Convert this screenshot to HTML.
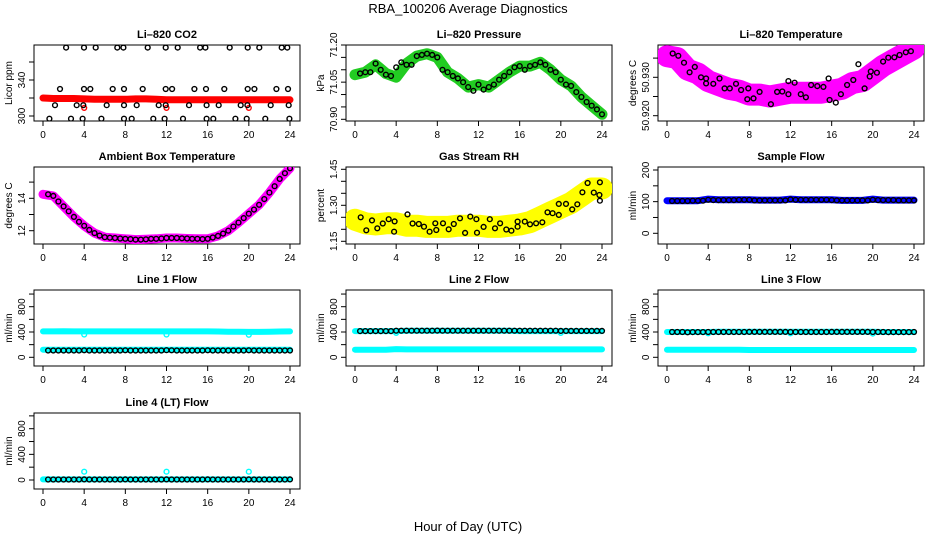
<!DOCTYPE html>
<html><head><meta charset="utf-8"><style>
html,body{margin:0;padding:0;background:#fff;}
svg{display:block;font-family:"Liberation Sans",sans-serif;}
</style></head><body>
<svg id="chart" width="936" height="540" viewBox="0 0 936 540">
<text x="468" y="13" text-anchor="middle" font-size="13">RBA_100206  Average Diagnostics</text>
<text x="468" y="531" text-anchor="middle" font-size="13">Hour of Day (UTC)</text>
</svg>
<script>
// ---- data ----
const hoursHalf = [0.5,1,1.5,2,2.5,3,3.5,4,4.5,5,5.5,6,6.5,7,7.5,8,8.5,9,9.5,10,10.5,11,11.5,12,12.5,13,13.5,14,14.5,15,15.5,16,16.5,17,17.5,18,18.5,19,19.5,20,20.5,21,21.5,22,22.5,23,23.5,24];
const hoursBand = [0,1,2,3,4,5,6,7,8,9,10,11,12,13,14,15,16,17,18,19,20,21,22,23,24];
const xTicks = [0,4,8,12,16,20,24];

const co2Band = [320,319.5,319.5,319.5,319,318.5,318.5,318.5,318.5,319,319,318.5,318,318,318,318,318,318,318,318,318,318,318,318,318];
const co2Hours = [2.24,3.98,5.12,7.22,7.81,10.17,11.92,13.09,15.26,15.78,18.14,19.89,21.02,23.19,23.74,
 1.65,3.98,4.6,6.77,7.87,9.69,11.92,12.54,14.71,15.84,17.62,19.89,20.54,22.68,23.81,
 1.17,3.27,3.92,6.19,7.87,9.1,11.24,11.92,14.19,15.9,17.07,19.21,19.86,22.12,23.87,
 0.62,2.72,3.85,5.67,7.87,8.62,10.72,11.82,13.6,15.9,16.55,18.69,19.79,21.6,23.94];
const co2Vals = [376,376,376,376,376,376,376,376,376,376,376,376,376,376,376,
 330,330,330,330,330,330,330,330,330,330,330,330,330,330,330,
 312,312,312,312,312,312,312,312,312,312,312,312,312,312,312,
 297,297,297,297,297,297,297,297,297,297,297,297,297,297,297];
const co2RedHours = [4,12,20];
const co2RedVals = [309,309,309];

const presBand = [71.08,71.09,71.12,71.085,71.07,71.125,71.155,71.165,71.15,71.09,71.065,71.03,71.04,71.03,71.06,71.09,71.115,71.115,71.13,71.1,71.06,71.035,70.99,70.955,70.92];
const presVals = [71.085,71.09,71.09,71.125,71.1,71.08,71.075,71.11,71.13,71.12,71.12,71.155,71.16,71.165,71.16,71.15,71.1,71.09,71.075,71.065,71.05,71.03,71.015,71.04,71.02,71.03,71.04,71.06,71.075,71.09,71.11,71.115,71.1,71.115,71.12,71.13,71.12,71.1,71.09,71.06,71.04,71.035,71.01,70.99,70.97,70.955,70.94,70.92];

const tempBand = [50.9355,50.935,50.932,50.931,50.929,50.928,50.927,50.9265,50.9255,50.9255,50.925,50.9255,50.926,50.926,50.926,50.926,50.9265,50.927,50.9285,50.929,50.931,50.933,50.9345,50.936,50.9375];
const tempHours = [0.55,1.1,1.65,2.2,2.7,3.3,3.8,3.8,4.5,5.1,5.6,6.1,6.7,7.2,7.8,7.9,8.4,9.0,10.1,10.7,11.2,11.8,11.8,12.4,13,13.5,14,14.6,15.2,15.7,15.8,16.4,16.9,17.5,18.1,18.6,19.2,19.7,19.8,20.4,21,21.5,22.1,22.6,23.2,23.7];
const tempVals = [50.9362,50.9356,50.9338,50.9313,50.9327,50.930,50.9297,50.9284,50.9283,50.9297,50.9271,50.9271,50.9283,50.9267,50.9243,50.9271,50.9245,50.9262,50.923,50.9262,50.9263,50.9256,50.929,50.9286,50.9256,50.9248,50.928,50.9277,50.9275,50.9297,50.9241,50.9234,50.9256,50.928,50.9293,50.9334,50.9271,50.9302,50.9315,50.9312,50.9341,50.9351,50.9352,50.9358,50.9365,50.9368];

const ambBand = [14.25,14.15,13.5,12.85,12.3,11.85,11.6,11.55,11.5,11.45,11.47,11.5,11.55,11.55,11.52,11.5,11.5,11.68,12.0,12.5,13.05,13.6,14.35,15.2,15.85];
const ambVals = [14.25,14.15,13.8,13.5,13.2,12.85,12.55,12.3,12.05,11.85,11.7,11.6,11.57,11.55,11.52,11.5,11.48,11.45,11.45,11.47,11.5,11.5,11.52,11.55,11.55,11.55,11.53,11.52,11.5,11.5,11.48,11.5,11.58,11.68,11.82,12.0,12.25,12.5,12.78,13.05,13.3,13.6,13.95,14.35,14.75,15.2,15.55,15.85];

const rhBand = [1.24,1.225,1.22,1.225,1.225,1.215,1.215,1.21,1.21,1.21,1.215,1.215,1.215,1.21,1.21,1.215,1.22,1.23,1.25,1.27,1.29,1.31,1.34,1.37,1.37];
const rhHours = [0.55,1.1,1.65,2.17,2.7,3.27,3.85,3.8,5.1,5.6,6.2,6.7,7.25,7.8,7.9,8.55,9.1,9.6,10.2,10.7,11.2,11.8,11.85,12.5,13.1,13.6,14.1,14.7,15.2,15.8,15.8,16.5,17,17.6,18.2,18.7,19.2,19.8,19.8,20.5,21.1,21.6,22.1,22.6,23.2,23.75,23.8,23.8];
const rhVals = [1.25,1.196,1.237,1.204,1.224,1.242,1.233,1.19,1.262,1.224,1.222,1.211,1.19,1.225,1.197,1.225,1.2,1.222,1.246,1.185,1.253,1.242,1.186,1.21,1.242,1.204,1.225,1.199,1.194,1.232,1.211,1.232,1.221,1.225,1.229,1.271,1.267,1.306,1.26,1.306,1.283,1.304,1.354,1.393,1.353,1.343,1.396,1.319];

const sampBand = [103,103,103,103,108,106,106,106,106,105,105,105,108,106,106,106,106,104,104,104,108,105,105,105,105];
const sampVals = [102,102,102,102,103,103,103,106,105,105,105,105,105,106,106,106,104,104,104,104,104,104,104,107,106,106,106,106,106,106,106,105,104,104,104,104,104,104,104,106,105,105,105,105,104,104,104,104];

const l1High = [410,410,412,410,410,410,410,410,410,410,410,410,410,410,410,410,410,408,405,405,402,402,405,408,410];
const l1Low = [120,118,118,118,118,118,118,118,118,118,118,118,120,118,118,118,118,118,118,118,118,118,118,118,118];
const l1Vals = [108,108,108,108,108,108,108,110,108,108,108,108,108,108,108,110,108,108,108,108,108,108,108,112,110,108,108,108,108,108,108,110,108,108,108,108,108,108,108,110,108,108,108,108,108,108,108,108];
const l1DipHours = [4,12,20];
const l1DipVals = [360,360,355];

const l2High = [415,415,415,415,415,420,420,420,420,420,420,420,420,420,420,420,415,415,415,415,415,415,415,415,415];
const l2Low = [120,118,118,118,130,125,125,125,125,125,125,125,125,125,125,125,125,125,125,125,125,125,125,125,125];
const l2Vals = [415,415,415,415,415,415,415,420,420,420,420,420,420,420,420,422,420,420,420,420,420,420,420,420,420,420,420,420,420,420,420,420,420,420,420,420,420,420,420,418,418,418,418,418,418,418,418,418];
const l2DipHours = [4,20];
const l2DipVals = [385,385];

const l3High = [400,400,400,400,400,405,405,405,405,405,405,405,405,405,405,405,405,405,405,405,405,400,400,400,400];
const l3Low = [120,120,120,120,120,120,120,120,115,115,115,115,115,115,115,115,115,115,115,115,115,115,115,115,115];
const l3Vals = [400,400,400,395,398,398,398,400,400,400,400,400,400,400,400,402,402,402,402,402,402,402,402,400,400,400,400,400,400,400,400,402,402,402,402,402,402,402,402,400,400,400,398,398,398,398,398,400];
const l3DipHours = [4,12,20];
const l3DipVals = [380,380,375];

const l4Band = [10,10,10,10,10,10,10,10,10,10,10,10,10,10,10,10,10,10,10,10,10,10,10,10,10];
const l4Vals = [8,8,8,8,8,8,8,10,8,8,8,8,8,8,8,10,8,8,8,8,8,8,8,10,8,8,8,8,8,8,8,10,8,8,8,8,8,8,8,10,8,8,8,8,8,8,8,10];
const l4SpikeHours = [4,12,20];
const l4SpikeVals = [130,130,130];

// ---- drawing ----
const NS = 'http://www.w3.org/2000/svg';
const svg = document.getElementById('chart');
function mk(tag, attrs, parent){const e=document.createElementNS(NS,tag);for(const k in attrs)e.setAttribute(k,attrs[k]);(parent||svg).appendChild(e);return e;}

const cols = [{l:34,r:300,x0:43,x24:290},{l:346,r:612,x0:355,x24:602},{l:658,r:924,x0:667,x24:914}];
const rows = [{t:45,b:121},{t:167,b:244},{t:290,b:366},{t:413,b:489}];

function panel(name, title, ylab, col, row, v1, p1, v2, p2, ticks, labels){
  const c=cols[col], r=rows[row];
  const g=mk('g',{});
  
  
  const xs=h=>c.x0+(c.x24-c.x0)*h/24;
  const ys=v=>p1+(v-v1)*(p2-p1)/(v2-v1);
  const t=mk('text',{x:(c.l+c.r)/2,y:r.t-7,'text-anchor':'middle','font-size':11,'font-weight':'bold'},g);
  t.textContent=title;
  
  
  const yl=mk('text',{x:0,y:0,'text-anchor':'middle','font-size':10,transform:`translate(${c.l-22},${(r.t+r.b)/2}) rotate(-90)`},g);
  yl.textContent=ylab;
  
  
  const box=mk('rect',{x:c.l,y:r.t,width:c.r-c.l,height:r.b-r.t,fill:'none',stroke:'#000','stroke-width':1},g);
  
  
  xTicks.forEach(h=>{
    const x=xs(h);
    mk('line',{x1:x,x2:x,y1:r.b,y2:r.b+5,stroke:'#000'},g);
    const tl=mk('text',{x:x,y:r.b+17,'text-anchor':'middle','font-size':10},g);
    tl.textContent=h;
    
    
  });
  ticks.forEach(v=>{
    const y=ys(v);
    mk('line',{x1:c.l-5,x2:c.l,y1:y,y2:y,stroke:'#000'},g);
  });
  labels.forEach(v=>{
    const tl=mk('text',{x:0,y:0,'text-anchor':'middle','font-size':10,transform:`translate(${c.l-9},${ys(+v)}) rotate(-90)`},g);
    tl.textContent=v;
    
    
  });
  const clip='clip'+col+row;
  const cp=mk('clipPath',{id:clip},g);
  mk('rect',{x:c.l,y:r.t,width:c.r-c.l,height:r.b-r.t},cp);
  const pg=mk('g',{'clip-path':`url(#${clip})`},g);
  return {xs,ys,g:pg};
}
function band(P,hrs,vals,color,w,name){
  const d=hrs.map((h,i)=>(i?'L':'M')+P.xs(h).toFixed(1)+','+P.ys(vals[i]).toFixed(1)).join('');
  const p=mk('path',{d:d,fill:'none',stroke:color,'stroke-width':w,'stroke-linejoin':'round','stroke-linecap':'round'},P.g);
  
  
}
function pts(P,hrs,vals,color,name){
  hrs.forEach((h,i)=>{
    const c=mk('circle',{cx:P.xs(h).toFixed(1),cy:P.ys(vals[i]).toFixed(1),r:2.4,fill:'none',stroke:color,'stroke-width':1.4},P.g);
    
    
  });
}

let P;
P=panel('co2-panel','Li\u2013820 CO2','Licor ppm',0,0,300,116,340,80,[300,320,340,360],['300','340']);
band(P,hoursBand,co2Band,'#ff0000',7,'co2-band');
pts(P,co2RedHours,co2RedVals,'#ff0000','co2-red-point');
pts(P,co2Hours,co2Vals,'#000','co2-point');

P=panel('pressure-panel','Li\u2013820 Pressure','kPa',1,0,71.20,45,70.90,119.3,[70.90,70.95,71.00,71.05,71.10,71.15,71.20],['70.90','71.05','71.20']);
band(P,hoursBand,presBand,'#22cc22',11,'pressure-band');
pts(P,hoursHalf,presVals,'#000','pressure-point');

P=panel('temperature-panel','Li\u2013820 Temperature','degrees C',2,0,50.920,115.7,50.930,77.3,[50.920,50.925,50.930,50.935],['50.920','50.930']);
band(P,hoursBand,tempBand,'#ff00ff',22,'temperature-band');
pts(P,tempHours,tempVals,'#000','temperature-point');

P=panel('ambient-panel','Ambient Box Temperature','degrees C',0,1,12,230.7,14,198.3,[12,13,14,15],['12','14']);
band(P,hoursBand,ambBand,'#ff00ff',9,'ambient-band');
pts(P,hoursHalf,ambVals,'#000','ambient-point');

P=panel('rh-panel','Gas Stream RH','percent',1,1,1.15,241.3,1.45,169.3,[1.15,1.20,1.25,1.30,1.35,1.40,1.45],['1.15','1.30','1.45']);
band(P,hoursBand,rhBand,'#ffff00',22,'rh-band');
pts(P,rhHours,rhVals,'#000','rh-point');

P=panel('sample-flow-panel','Sample Flow','ml/min',2,1,0,233.3,200,170,[0,50,100,150,200],['0','100','200']);
band(P,hoursBand,sampBand,'#0000ff',7,'sample-flow-band');
pts(P,hoursHalf,sampVals,'#000','sample-flow-point');

const fT=[0,200,400,600,800,1000], fL=['0','400','800'];
P=panel('line1-panel','Line 1 Flow','ml/min',0,2,0,357.3,800,306.7,fT,fL);
band(P,hoursBand,l1High,'#00ffff',6,'line1-high-band');
band(P,hoursBand,l1Low,'#00ffff',6,'line1-low-band');
pts(P,l1DipHours,l1DipVals,'#00ffff','line1-dip-point');
pts(P,hoursHalf,l1Vals,'#000','line1-point');

P=panel('line2-panel','Line 2 Flow','ml/min',1,2,0,357.3,800,306.7,fT,fL);
band(P,hoursBand,l2High,'#00ffff',6,'line2-high-band');
band(P,hoursBand,l2Low,'#00ffff',6,'line2-low-band');
pts(P,l2DipHours,l2DipVals,'#00ffff','line2-dip-point');
pts(P,hoursHalf,l2Vals,'#000','line2-point');

P=panel('line3-panel','Line 3 Flow','ml/min',2,2,0,357.3,800,306.7,fT,fL);
band(P,hoursBand,l3High,'#00ffff',6,'line3-high-band');
band(P,hoursBand,l3Low,'#00ffff',6,'line3-low-band');
pts(P,l3DipHours,l3DipVals,'#00ffff','line3-dip-point');
pts(P,hoursHalf,l3Vals,'#000','line3-point');

P=panel('line4-panel','Line 4 (LT) Flow','ml/min',0,3,0,480,800,428.7,fT,fL);
band(P,hoursBand,l4Band,'#00ffff',6,'line4-band');
pts(P,l4SpikeHours,l4SpikeVals,'#00ffff','line4-spike-point');
pts(P,hoursHalf,l4Vals,'#000','line4-point');
</script>
</body></html>
